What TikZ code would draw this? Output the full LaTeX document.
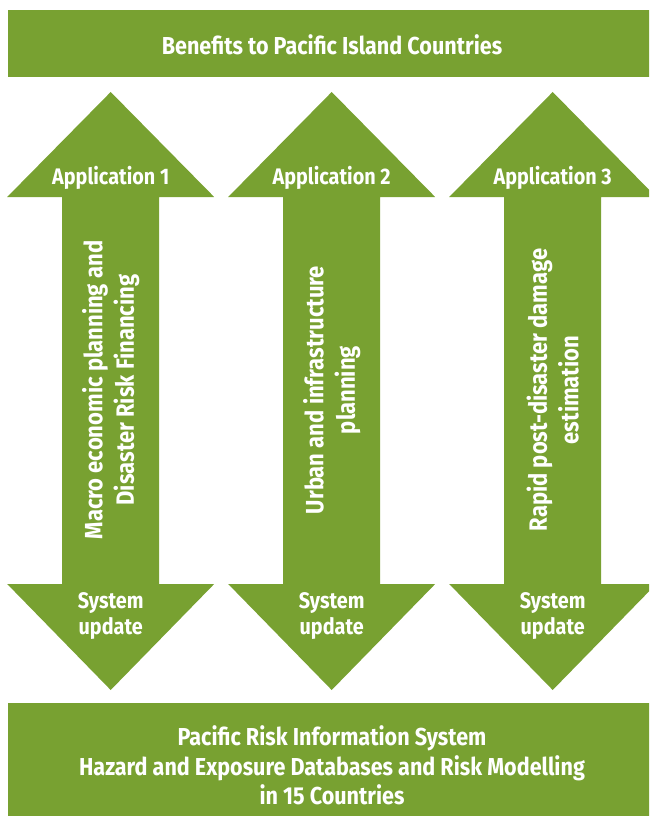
\documentclass[tikz,border=0pt]{standalone}
\usepackage{fontspec}
\setmainfont{Fira Sans}[FakeStretch=0.88]
\usetikzlibrary{positioning}
\definecolor{leaf}{RGB}{120,161,49}

\begin{document}
\begin{tikzpicture}[x=1pt, y=-1pt,
    banner/.style={rectangle, fill=leaf, inner sep=0pt, minimum width=648pt},
    bannertext/.style={text=white, inner sep=0pt, align=center,
                       font=\bfseries\fontsize{24.5}{29.5}\selectfont},
    tag/.style={text=white, inner sep=0pt, align=center,
                font=\bfseries\fontsize{22.5}{26}\selectfont},
    usetext/.style={tag, rotate=90, font=\bfseries\fontsize{25}{31.5}\selectfont}
]
\useasboundingbox (0,0) rectangle (649,821);
\clip (0,0) rectangle (649,821);

% top and bottom banners
\node[banner, minimum height=67pt] (benefits) at (332,43.5) {};
\node[bannertext] (benefitstext) at ([yshift=-1pt]benefits.center)
    {Benefits to Pacific Island Countries};
\node[banner, minimum height=113pt] (pcris) at (332,759.5) {};
\node[bannertext] (pcristext) at ([yshift=-6pt]pcris.center)
    {Pacific Risk Information System\\
     Hazard and Exposure Databases and Risk Modelling\\
     in 15 Countries};

% double arrows with their texts
\foreach \i/\x/\txt in {
    1/110.7/{Macro economic planning and\\Disaster Risk Financing},
    2/331.7/{Urban and infrastructure\\planning},
    3/552.7/{Rapid post-disaster damage\\estimation}}
{
    \fill[leaf] (\x-48.5,197) -- (\x-103.5,197) -- (\x,92) -- (\x+103.5,197)
        -- (\x+48.5,197) -- (\x+48.5,584) -- (\x+103.5,584) -- (\x,690)
        -- (\x-103.5,584) -- (\x-48.5,584) -- cycle;
    \node[tag, anchor=base] (app\i) at (\x,184) {Application \i};
    \node[tag] (upd\i) at (\x,616) {System\\update};
    \node[usetext] (use\i) at (\x,390) {\txt};
}
\end{tikzpicture}
\end{document}
